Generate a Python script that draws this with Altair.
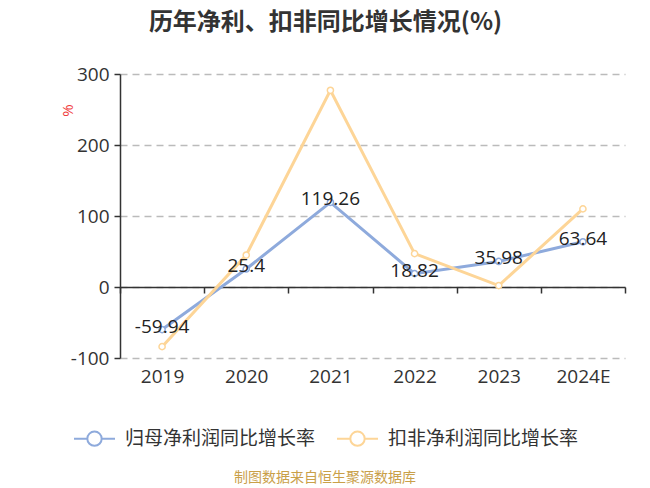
import altair as alt
import pandas as pd

years = ["2019", "2020", "2021", "2022", "2023", "2024E"]
net_profit_growth = [-59.94, 25.4, 119.26, 18.82, 35.98, 63.64]
deducted_growth = [-84, 45, 277, 47, 2, 110]
series_names = ["归母净利润同比增长率", "扣非净利润同比增长率"]
series_colors = ["#8eaadc", "#fdd597"]
y_ticks = [-100, 0, 100, 200, 300]
title_text = "历年净利、扣非同比增长情况(%)"
footer_text = "制图数据来自恒生聚源数据库"

rows = []
for i, yr in enumerate(years):
    rows.append({"idx": i, "year": yr, "series": series_names[0],
                 "value": net_profit_growth[i], "label": str(net_profit_growth[i])})
for i, yr in enumerate(years):
    rows.append({"idx": i, "year": yr, "series": series_names[1],
                 "value": deducted_growth[i], "label": str(deducted_growth[i])})
df = pd.DataFrame(rows)

FONT = "Open Sans, Noto Sans CJK SC"
CJK = "Noto Sans CJK SC"
n = len(years)
label_map = "{" + ",".join(f"'{i - 0.5}':'{y}'" for i, y in enumerate(years)) + "}"

x_enc = alt.X(
    "idx:Q",
    scale=alt.Scale(domain=[-0.5, n - 0.5], nice=False, zero=False),
    axis=alt.Axis(
        title=None,
        values=[i - 0.5 for i in range(n + 1)],
        labelExpr=f"({label_map})[''+datum.value] || ''",
        labelFlush=False,
        offset=-71,
        domainColor="#333",
        domainWidth=1.5,
        tickColor="#333",
        tickWidth=1.5,
        tickSize=6,
        labelOffset=42.1,
        labelPadding=74,
        labelFontSize=19,
        labelColor="#333",
        labelFont=FONT,
        grid=False,
    ),
)

y_enc = alt.Y(
    "value:Q",
    scale=alt.Scale(domain=[-100, 300], nice=False),
    axis=alt.Axis(
        title="%",
        titleColor="#f03c3c",
        titleFontSize=15,
        titleFontWeight="normal",
        titleFont=FONT,
        titleX=-45,
        titleY=36,
        values=y_ticks,
        labelExpr="'' + datum.value",
        grid=True,
        gridDash=[7, 5],
        gridColor="#bbbbbb",
        gridWidth=1.5,
        domainColor="#333",
        domainWidth=1.5,
        tickColor="#333",
        tickWidth=1.5,
        tickSize=6,
        labelFontSize=19,
        labelColor="#333",
        labelFont=FONT,
        labelPadding=5,
    ),
)

color_scale = alt.Scale(domain=series_names, range=series_colors)
legend_symbol = "M-1,0L-0.35,0M0.35,0L1,0M-0.35,0A0.35,0.35,0,1,1,0.35,0A0.35,0.35,0,1,1,-0.35,0Z"

lines = alt.Chart(df).mark_line(strokeWidth=3).encode(
    x=x_enc,
    y=y_enc,
    color=alt.Color(
        "series:N",
        scale=color_scale,
        legend=alt.Legend(
            title=None,
            orient="none",
            direction="horizontal",
            legendX=-47,
            legendY=343,
            symbolType=legend_symbol,
            symbolSize=1681,
            symbolStrokeWidth=2,
            symbolFillColor="white",
            labelFontSize=19,
            labelColor="#333",
            labelFont=CJK,
            labelOffset=9,
            labelLimit=0,
            columnPadding=17,
        ),
    ),
    detail="series:N",
)

points = alt.Chart(df).mark_point(filled=False, fill="white", size=38, strokeWidth=1.5, opacity=1).encode(
    x="idx:Q",
    y="value:Q",
    color=alt.Color("series:N", scale=color_scale, legend=None),
)

labels = alt.Chart(df).transform_filter(
    alt.datum.series == series_names[0]
).mark_text(fontSize=19, dy=-3, color="#222", font=FONT).encode(
    x="idx:Q",
    y="value:Q",
    text="label:N",
)

footer = alt.Chart(pd.DataFrame({"t": [footer_text]})).mark_text(
    fontSize=14, color="#c9a049", font=CJK
).encode(text="t:N", x=alt.value(205), y=alt.value(404))

chart = alt.layer(lines, points, labels, footer).properties(
    width=505,
    height=284,
    title=alt.TitleParams(
        title_text,
        fontSize=24,
        fontWeight="bold",
        color="#333",
        font=CJK,
        anchor="middle",
        dx=-47,
        offset=30,
    ),
    autosize=alt.AutoSizeParams(type="none"),
    padding={"left": 120, "top": 74, "right": 25, "bottom": 130},
).configure(background="white").configure_view(stroke=None)

chart.save("out.html", embed_options={"renderer": "svg", "actions": False})
